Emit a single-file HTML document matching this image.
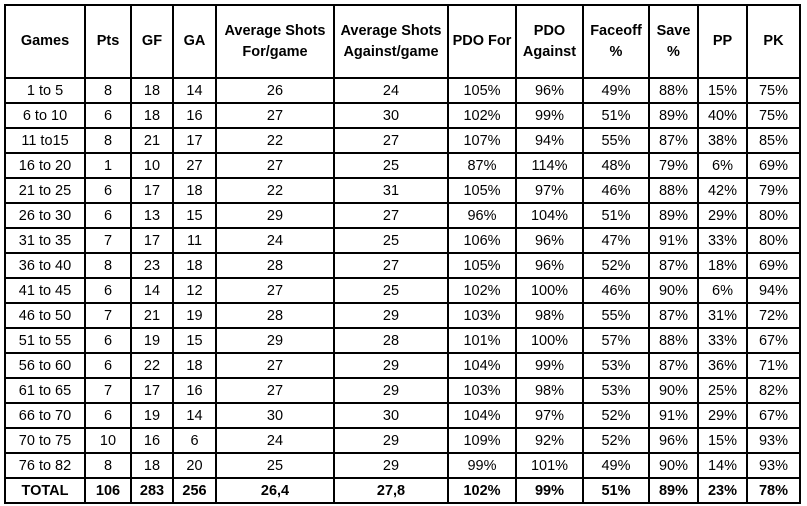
<!DOCTYPE html>
<html><head><style>
body{margin:0;background:#fff;width:807px;height:506px;overflow:hidden}
table{position:absolute;left:4px;top:4px;border-collapse:collapse;table-layout:fixed;font-family:"Liberation Sans",sans-serif;font-size:14.5px;color:#000}
td,th{border:2px solid #000;text-align:center;padding:0;height:23px;line-height:16px;white-space:nowrap;overflow:hidden}
th{height:71px;font-weight:bold;line-height:21px}
tr.t td{font-weight:bold}
</style></head><body>
<table>
<colgroup><col style="width:80px"><col style="width:46px"><col style="width:42px"><col style="width:43px"><col style="width:118px"><col style="width:114px"><col style="width:68px"><col style="width:67px"><col style="width:66px"><col style="width:49px"><col style="width:49px"><col style="width:53px"></colgroup>
<tr><th>Games</th><th>Pts</th><th>GF</th><th>GA</th><th>Average Shots<br>For/game</th><th>Average Shots<br>Against/game</th><th>PDO For</th><th>PDO<br>Against</th><th>Faceoff<br>%</th><th>Save<br>%</th><th>PP</th><th>PK</th></tr>
<tr><td>1 to 5</td><td>8</td><td>18</td><td>14</td><td>26</td><td>24</td><td>105%</td><td>96%</td><td>49%</td><td>88%</td><td>15%</td><td>75%</td></tr>
<tr><td>6 to 10</td><td>6</td><td>18</td><td>16</td><td>27</td><td>30</td><td>102%</td><td>99%</td><td>51%</td><td>89%</td><td>40%</td><td>75%</td></tr>
<tr><td>11 to15</td><td>8</td><td>21</td><td>17</td><td>22</td><td>27</td><td>107%</td><td>94%</td><td>55%</td><td>87%</td><td>38%</td><td>85%</td></tr>
<tr><td>16 to 20</td><td>1</td><td>10</td><td>27</td><td>27</td><td>25</td><td>87%</td><td>114%</td><td>48%</td><td>79%</td><td>6%</td><td>69%</td></tr>
<tr><td>21 to 25</td><td>6</td><td>17</td><td>18</td><td>22</td><td>31</td><td>105%</td><td>97%</td><td>46%</td><td>88%</td><td>42%</td><td>79%</td></tr>
<tr><td>26 to 30</td><td>6</td><td>13</td><td>15</td><td>29</td><td>27</td><td>96%</td><td>104%</td><td>51%</td><td>89%</td><td>29%</td><td>80%</td></tr>
<tr><td>31 to 35</td><td>7</td><td>17</td><td>11</td><td>24</td><td>25</td><td>106%</td><td>96%</td><td>47%</td><td>91%</td><td>33%</td><td>80%</td></tr>
<tr><td>36 to 40</td><td>8</td><td>23</td><td>18</td><td>28</td><td>27</td><td>105%</td><td>96%</td><td>52%</td><td>87%</td><td>18%</td><td>69%</td></tr>
<tr><td>41 to 45</td><td>6</td><td>14</td><td>12</td><td>27</td><td>25</td><td>102%</td><td>100%</td><td>46%</td><td>90%</td><td>6%</td><td>94%</td></tr>
<tr><td>46 to 50</td><td>7</td><td>21</td><td>19</td><td>28</td><td>29</td><td>103%</td><td>98%</td><td>55%</td><td>87%</td><td>31%</td><td>72%</td></tr>
<tr><td>51 to 55</td><td>6</td><td>19</td><td>15</td><td>29</td><td>28</td><td>101%</td><td>100%</td><td>57%</td><td>88%</td><td>33%</td><td>67%</td></tr>
<tr><td>56 to 60</td><td>6</td><td>22</td><td>18</td><td>27</td><td>29</td><td>104%</td><td>99%</td><td>53%</td><td>87%</td><td>36%</td><td>71%</td></tr>
<tr><td>61 to 65</td><td>7</td><td>17</td><td>16</td><td>27</td><td>29</td><td>103%</td><td>98%</td><td>53%</td><td>90%</td><td>25%</td><td>82%</td></tr>
<tr><td>66 to 70</td><td>6</td><td>19</td><td>14</td><td>30</td><td>30</td><td>104%</td><td>97%</td><td>52%</td><td>91%</td><td>29%</td><td>67%</td></tr>
<tr><td>70 to 75</td><td>10</td><td>16</td><td>6</td><td>24</td><td>29</td><td>109%</td><td>92%</td><td>52%</td><td>96%</td><td>15%</td><td>93%</td></tr>
<tr><td>76 to 82</td><td>8</td><td>18</td><td>20</td><td>25</td><td>29</td><td>99%</td><td>101%</td><td>49%</td><td>90%</td><td>14%</td><td>93%</td></tr>
<tr class="t"><td>TOTAL</td><td>106</td><td>283</td><td>256</td><td>26,4</td><td>27,8</td><td>102%</td><td>99%</td><td>51%</td><td>89%</td><td>23%</td><td>78%</td></tr>
</table>
</body></html>
